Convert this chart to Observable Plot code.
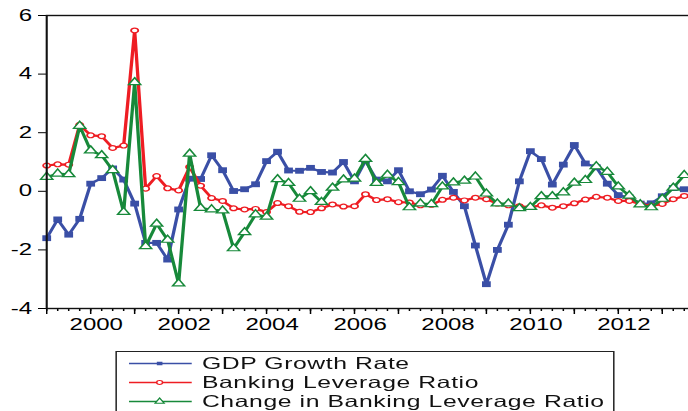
<!DOCTYPE html>
<html>
<head>
<meta charset="utf-8">
<script src="https://cdn.jsdelivr.net/npm/d3@7"></script>
<script src="https://cdn.jsdelivr.net/npm/@observablehq/plot@0.6"></script>
<style>
  html, body { margin: 0; padding: 0; background: white; overflow: hidden; }
  #wrap { position: absolute; left: 0; top: 0; width: 459px; height: 411px;
          transform: scaleX(1.4989); transform-origin: 0 0; }
  #legend { position: absolute; left: 76.7px; top: 351px; width: 333px; height: 80px;
            border: 1px solid #222; box-sizing: border-box; background: white;
            font-family: "Liberation Sans", Arial, sans-serif; font-size: 16.5px; color: #111;
            letter-spacing: 0.4px; }
  .row { position: absolute; left: 0; height: 19px; width: 100%; }
  .row svg { position: absolute; left: 8px; top: 0; }
  .row span { position: absolute; left: 57px; top: 0; line-height: 19px; white-space: nowrap; }
</style>
</head>
<body>
<div id="wrap"><div id="chart"></div><div id="legend"></div></div>
<script>
const quarters = [
  "1999Q1","1999Q2","1999Q3","1999Q4","2000Q1","2000Q2","2000Q3","2000Q4",
  "2001Q1","2001Q2","2001Q3","2001Q4","2002Q1","2002Q2","2002Q3","2002Q4",
  "2003Q1","2003Q2","2003Q3","2003Q4","2004Q1","2004Q2","2004Q3","2004Q4",
  "2005Q1","2005Q2","2005Q3","2005Q4","2006Q1","2006Q2","2006Q3","2006Q4",
  "2007Q1","2007Q2","2007Q3","2007Q4","2008Q1","2008Q2","2008Q3","2008Q4",
  "2009Q1","2009Q2","2009Q3","2009Q4","2010Q1","2010Q2","2010Q3","2010Q4",
  "2011Q1","2011Q2","2011Q3","2011Q4","2012Q1","2012Q2","2012Q3","2012Q4",
  "2013Q1","2013Q2","2013Q3"
];
const gdpGrowth = [
  -1.60,-0.96,-1.48,-0.94, 0.26, 0.45, 0.78, 0.40,
  -0.42,-1.76,-1.76,-2.33,-0.62, 0.43, 0.42, 1.23,
   0.72, 0.01, 0.07, 0.24, 1.03, 1.35, 0.71, 0.70,
   0.80, 0.66, 0.64, 1.00, 0.34, 1.04, 0.40, 0.34,
   0.72, 0.00,-0.10, 0.06, 0.53,-0.02,-0.51,-1.85,
  -3.17,-2.00,-1.14, 0.34, 1.37, 1.10, 0.23, 0.91,
   1.58, 0.95, 0.82, 0.26,-0.13,-0.21,-0.42,-0.41,
  -0.17, 0.11, 0.07
];
const leverage = [
   0.88, 0.92, 0.91, 2.27, 1.91, 1.88, 1.48, 1.56,
   5.49, 0.09, 0.52, 0.10, 0.03, 0.83, 0.19,-0.23,
  -0.33,-0.58,-0.62,-0.60,-0.71,-0.40,-0.51,-0.70,
  -0.71,-0.58,-0.45,-0.52,-0.51,-0.10,-0.30,-0.27,
  -0.37,-0.38,-0.48,-0.46,-0.29,-0.22,-0.31,-0.22,
  -0.27,-0.42,-0.48,-0.51,-0.54,-0.48,-0.56,-0.51,
  -0.41,-0.28,-0.19,-0.22,-0.33,-0.33,-0.43,-0.50,
  -0.43,-0.27,-0.16
];
const leverageChange = [
   0.49, 0.60, 0.58, 2.23, 1.39, 1.23, 0.72,-0.71,
   3.72,-1.88,-1.11,-1.66,-3.15, 1.28,-0.57,-0.62,
  -0.66,-1.95,-1.40,-0.79,-0.87, 0.41, 0.28,-0.26,
   0.00,-0.37, 0.12, 0.40, 0.43, 1.10, 0.28, 0.56,
   0.31,-0.55,-0.42,-0.44, 0.16, 0.30, 0.36, 0.50,
  -0.08,-0.42,-0.42,-0.58,-0.54,-0.17,-0.17,-0.04,
   0.29, 0.38, 0.85, 0.66, 0.16,-0.15,-0.45,-0.55,
  -0.26, 0.12, 0.55
];
const seriesNames = ["GDP Growth Rate", "Banking Leverage Ratio", "Change in Banking Leverage Ratio"];
const seriesColors = ["#3a4fa6", "#ee1d23", "#17893a"];
const yTicks = [-4, -2, 0, 2, 4, 6];
const yearTicks = [1999,2000,2001,2002,2003,2004,2005,2006,2007,2008,2009,2010,2011,2012,2013];
const yearLabels = [2000, 2002, 2004, 2006, 2008, 2010, 2012];

const toT = q => +q.slice(0, 4) + (+q.slice(5) - 1) / 4;
const rows = quarters.map((q, i) => ({
  t: toT(q), gdp: gdpGrowth[i], lev: leverage[i], dlev: leverageChange[i]
}));
const quarterTicks = rows.map(d => d.t).concat([2013.75]);

const W = 459;
const chart = Plot.plot({
  width: W,
  height: 335,
  marginLeft: 30.67,
  marginRight: -4.33,
  marginTop: 15,
  marginBottom: 27,
  x: {domain: [1999, 2013.75]},
  y: {domain: [-4, 6]},
  style: {fontFamily: "'Liberation Sans', Arial, sans-serif", fontSize: "16px", color: "black", background: "white"},
  marks: [
    Plot.axisY({ticks: yTicks, tickSize: 5.3, tickPadding: 4.5, tickFormat: d => String(d), fontSize: 16, label: null}),
    Plot.axisX({ticks: quarterTicks, tickSize: 3, tickFormat: () => "", label: null}),
    Plot.axisX({ticks: yearTicks, tickSize: 6, tickFormat: () => "", label: null}),
    Plot.axisX({ticks: yearLabels, tickSize: 0, tickPadding: 10, dx: 3.7, tickFormat: d => String(d), fontSize: 16, label: null}),
    Plot.line(rows, {x: "t", y: "gdp", stroke: seriesColors[0], strokeWidth: 2.2}),
    Plot.dot(rows, {x: "t", y: "gdp", symbol: "square", r: 3.3, fill: seriesColors[0], stroke: "none"}),
    Plot.line(rows, {x: "t", y: "lev", stroke: seriesColors[1], strokeWidth: 2.2}),
    Plot.dot(rows, {x: "t", y: "lev", symbol: "circle", r: 2.4, fill: "white", stroke: seriesColors[1], strokeWidth: 1.2}),
    Plot.line(rows, {x: "t", y: "dlev", stroke: seriesColors[2], strokeWidth: 2.2}),
    Plot.dot(rows, {x: "t", y: "dlev", symbol: "triangle", r: 3.0, fill: "white", stroke: seriesColors[2], strokeWidth: 1.2}),
    Plot.frame({stroke: "#111", strokeWidth: 1.4})
  ]
});
document.getElementById("chart").appendChild(chart);

// legend
const legend = d3.select("#legend");
const symbols = [d3.symbolSquare, d3.symbolCircle, d3.symbolTriangle];
const symSizes = [14, 12, 16];
const rowTops = [2, 21, 40];
seriesNames.forEach((name, k) => {
  const row = legend.append("div").attr("class", "row").style("top", rowTops[k] + "px");
  const svg = row.append("svg").attr("width", 42).attr("height", 19);
  svg.append("line").attr("x1", 0).attr("x2", 42).attr("y1", 9.5).attr("y2", 9.5)
     .attr("stroke", seriesColors[k]).attr("stroke-width", 1.5);
  svg.append("path").attr("d", d3.symbol(symbols[k], symSizes[k])())
     .attr("transform", "translate(20.5,9.5)")
     .attr("fill", k === 0 ? seriesColors[k] : "white")
     .attr("stroke", k === 0 ? "none" : seriesColors[k]).attr("stroke-width", 1);
  row.append("span").text(name);
});
</script>
</body>
</html>
